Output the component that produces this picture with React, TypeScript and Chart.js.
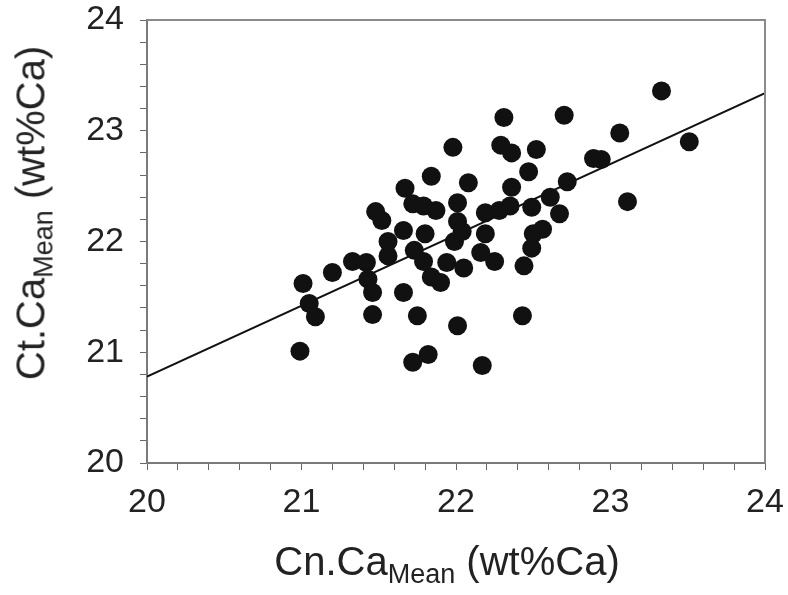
import React, { useEffect, useRef } from "react";
import { Chart, registerables } from "chart.js";

Chart.register(...registerables);

// Scatter data: Cn.Ca_Mean (x) vs Ct.Ca_Mean (y), wt%Ca
const cnCaMean: number[] = [
  20.99, 21.01, 21.05, 21.09, 21.2, 21.33, 21.42, 21.43, 21.46, 21.46,
  21.48, 21.52, 21.56, 21.56, 21.67, 21.66, 21.66, 21.72, 21.79, 21.87,
  21.73, 21.75, 21.72, 21.82, 21.8, 21.79, 21.84, 21.9, 21.84, 21.98,
  22.01, 22.01, 22.04, 21.99, 21.94, 22.05, 22.01, 22.08, 22.16, 22.19,
  22.25, 22.17, 22.29, 22.36, 22.31, 22.28, 22.35, 22.19, 22.36, 22.47,
  22.52, 22.44, 22.49, 22.5, 22.56, 22.43, 22.49, 22.61, 22.67, 22.72,
  22.7, 22.89, 22.94, 23.06, 23.11, 23.33, 23.51,
];
const ctCaMean: number[] = [
  21.01, 21.62, 21.44, 21.32, 21.72, 21.82, 21.81, 21.66, 21.54, 21.34,
  22.27, 22.19, 22.0, 21.87, 22.48, 22.1, 21.54, 22.34, 22.32, 22.28,
  21.92, 21.33, 20.91, 20.98, 22.07, 21.82, 21.68, 21.63, 22.59, 22.85,
  22.35, 22.18, 22.09, 22.0, 21.81, 21.76, 21.24, 22.53, 21.9, 22.07,
  21.82, 20.88, 22.87, 22.8, 23.12, 22.28, 22.32, 22.26, 22.49, 22.63,
  22.83, 21.78, 21.94, 22.07, 22.11, 21.33, 22.31, 22.4, 22.25, 22.54,
  23.14, 22.75, 22.74, 22.98, 22.36, 23.36, 22.9,
];

// Regression line end points
const fitX: number[] = [20, 24];
const fitY: number[] = [20.78, 23.34];

const axisMin = 20;
const axisMax = 24;
const minorStep = 0.2;

const FONT = "'Liberation Sans', Arial, Helvetica, sans-serif";

export default function App() {
  const canvasRef = useRef<HTMLCanvasElement | null>(null);

  useEffect(() => {
    if (!canvasRef.current) return;
    const points = cnCaMean.map((x, i) => ({ x, y: ctCaMean[i] }));
    const fit = fitX.map((x, i) => ({ x, y: fitY[i] }));

    const majorLabel = (v: any) => {
      const n = Number(v);
      return Math.abs(n - Math.round(n)) < 1e-6 ? String(Math.round(n)) : "";
    };

    const chart = new Chart(canvasRef.current, {
      type: "scatter",
      data: {
        datasets: [
          {
            type: "line",
            data: fit,
            borderColor: "#111",
            borderWidth: 2,
            pointRadius: 0,
            fill: false,
            order: 2,
          } as any,
          {
            data: points,
            backgroundColor: "#111",
            borderColor: "#111",
            borderWidth: 0,
            pointRadius: 9.5,
            order: 1,
          },
        ],
      },
      options: {
        responsive: false,
        animation: false,
        layout: { padding: { top: 20, right: 23, left: 0, bottom: 0 } },
        plugins: {
          legend: { display: false },
          tooltip: { enabled: false },
        },
        scales: {
          x: {
            type: "linear",
            min: axisMin,
            max: axisMax,
            afterFit: (s: any) => {
              s.height = 132;
              s.paddingLeft = 0;
              s.paddingRight = 0;
            },
            ticks: {
              stepSize: minorStep,
              autoSkip: false,
              maxRotation: 0,
              padding: 12,
              color: "#222",
              font: { family: FONT, size: 34 },
              callback: majorLabel,
            },
            grid: {
              drawOnChartArea: false,
              drawTicks: true,
              tickLength: 7,
              tickColor: "#666",
            },
            border: { display: true, color: "#7a7a7a", width: 2 },
          },
          y: {
            type: "linear",
            min: axisMin,
            max: axisMax,
            afterFit: (s: any) => {
              s.width = 147;
              s.paddingTop = 0;
              s.paddingBottom = 0;
            },
            ticks: {
              stepSize: minorStep,
              autoSkip: false,
              padding: 16,
              color: "#222",
              font: { family: FONT, size: 34 },
              callback: majorLabel,
            },
            grid: {
              drawOnChartArea: false,
              drawTicks: true,
              tickLength: 7,
              tickColor: "#666",
            },
            border: { display: true, color: "#7a7a7a", width: 2 },
          },
        },
      },
      plugins: [
        {
          id: "frame",
          afterDatasetsDraw(c: any) {
            const { ctx, chartArea } = c;
            ctx.save();
            ctx.strokeStyle = "#8a8a8a";
            ctx.lineWidth = 2;
            ctx.beginPath();
            ctx.moveTo(chartArea.left, chartArea.top);
            ctx.lineTo(chartArea.right, chartArea.top);
            ctx.lineTo(chartArea.right, chartArea.bottom);
            ctx.stroke();
            ctx.restore();
          },
        },
      ],
    });
    return () => chart.destroy();
  }, []);

  const titleStyle: React.CSSProperties = {
    position: "absolute",
    whiteSpace: "nowrap",
    fontFamily: FONT,
    fontSize: 40,
    color: "#222",
    lineHeight: 1,
  };
  const subStyle: React.CSSProperties = {
    fontSize: 27,
    verticalAlign: "-0.3em",
  };

  return (
    <div style={{ position: "fixed", left: 0, top: 0, width: 788, height: 595, background: "#fff" }}>
      <canvas ref={canvasRef} width={788} height={595} style={{ display: "block" }} />
      <div
        style={{
          ...titleStyle,
          left: 447,
          top: 541,
          transform: "translateX(-50%)",
        }}
      >
        Cn.Ca<span style={subStyle}>Mean</span> (wt%Ca)
      </div>
      <div
        style={{
          ...titleStyle,
          left: 34,
          top: 213,
          transform: "translate(-50%, -50%) rotate(-90deg)",
        }}
      >
        Ct.Ca<span style={subStyle}>Mean</span> (wt%Ca)
      </div>
    </div>
  );
}
